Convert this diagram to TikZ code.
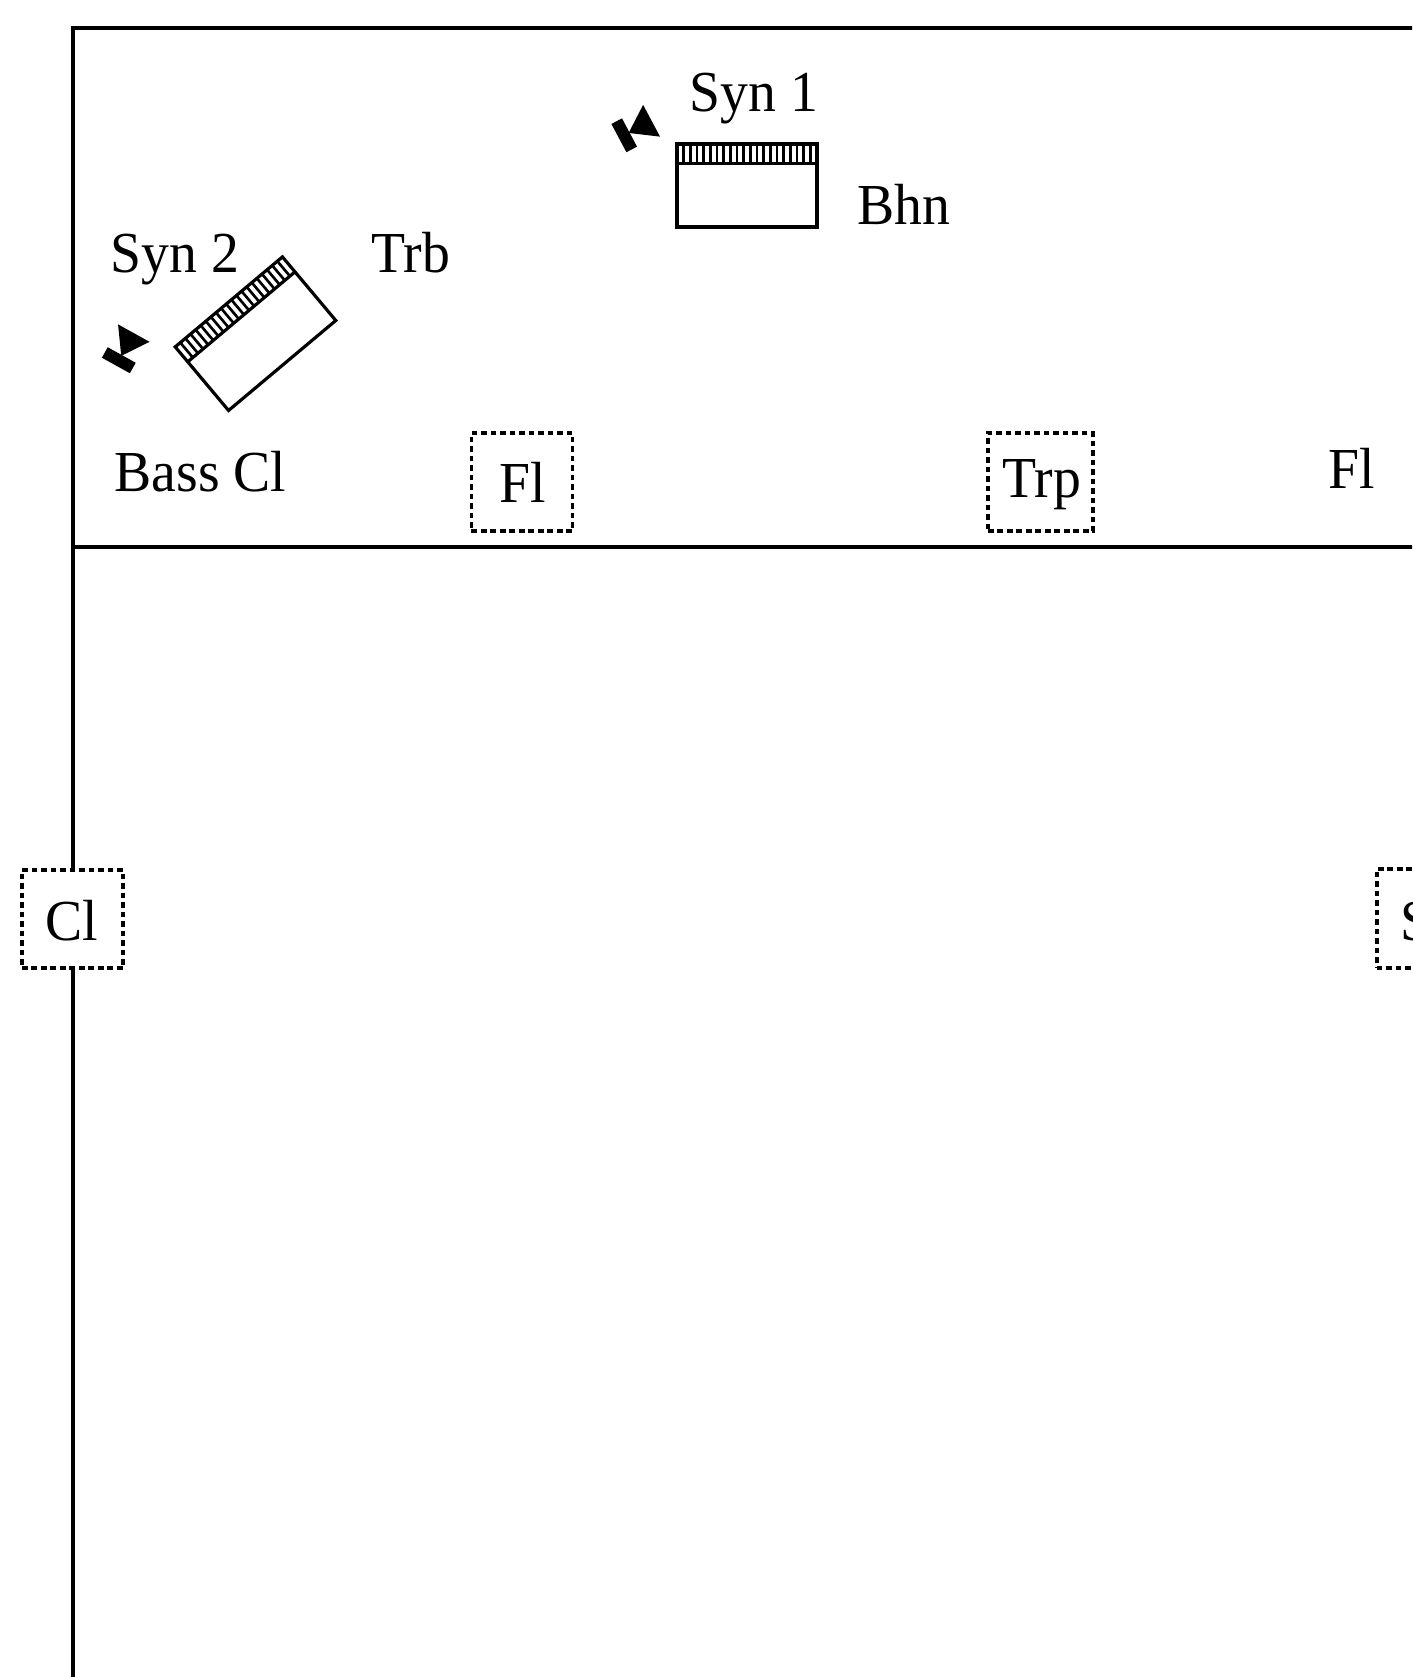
\documentclass[tikz,border=0pt]{standalone}
\usepackage{fontspec}
\setmainfont{Liberation Serif}[FakeStretch=0.96]
\begin{document}
\begin{tikzpicture}[x=0.01cm,y=-0.01cm,
  wall/.style={line width=1.15pt},
  dbox/.style={draw, dash pattern=on 1.6pt off 1.1pt, line width=1pt, fill=white, inner sep=0pt},
  lbl/.style={inner sep=0pt, anchor=base west, font=\fontsize{16.5}{18}\selectfont},
  kbd/.style={line width=0.9pt},
  keyline/.style={line width=0.75pt},
  keyboard/.pic={
    \draw[kbd] (-70,-41.5) rectangle (70,41.5);
    \draw[kbd] (-70,-22) -- (70,-22);
    \foreach \i in {1,...,20} \draw[keyline] ({-70+\i*140/21},-41.5) -- ++(0,19.5);
  },
  speaker/.pic={
    \fill (-12,-16) rectangle (0,16);
    \fill (-1,0) -- (25,-18) -- (25,18) -- cycle;
  }]
\useasboundingbox (0,0) rectangle (1412,1677);
\clip (0,0) rectangle (1412,1677);
% walls
\coordinate (tl) at (73,28);
\coordinate (tr) at (1440,28);
\coordinate (ml) at (73,547);
\coordinate (mr) at (1440,547);
\coordinate (bl) at (73,1700);
\draw[wall] (tr) -- (tl) -- (bl);
\draw[wall] (ml) -- (mr);
% keyboards and speakers
\pic at (747,185.5) {keyboard};
\pic[rotate=40] at (255.5,333.7) {keyboard};
\pic[rotate=28] at (629.5,132.5) {speaker};
\pic[rotate=61] at (121.7,355) {speaker};
% dashed boxes
\node[dbox, minimum width=1.01cm, minimum height=0.98cm] (flbox) at (522,482) {};
\node[dbox, minimum width=1.05cm, minimum height=0.98cm] (trpbox) at (1040.5,482) {};
\node[dbox, minimum width=1.01cm, minimum height=0.98cm] (clbox) at (72.5,919) {};
\node[dbox, minimum width=1.01cm, minimum height=0.99cm, anchor=west] (sbox) at (1375,918.5) {};
% labels
\node[lbl] (syn1) at (689,112) {Syn 1};
\node[lbl] (bhn) at (857,225) {Bhn};
\node[lbl] (syn2) at (110,273) {Syn 2};
\node[lbl] (trb) at (371,273) {Trb};
\node[lbl] (basscl) at (114,492) {Bass Cl};
\node[lbl] (fl1) at (499,503) {Fl};
\node[lbl] (trp) at (1002,498) {Trp};
\node[lbl] (fl2) at (1328,489) {Fl};
\node[lbl] (cl) at (45,940) {Cl};
\node[lbl] (s) at (1400,940) {S};
\end{tikzpicture}
\end{document}
